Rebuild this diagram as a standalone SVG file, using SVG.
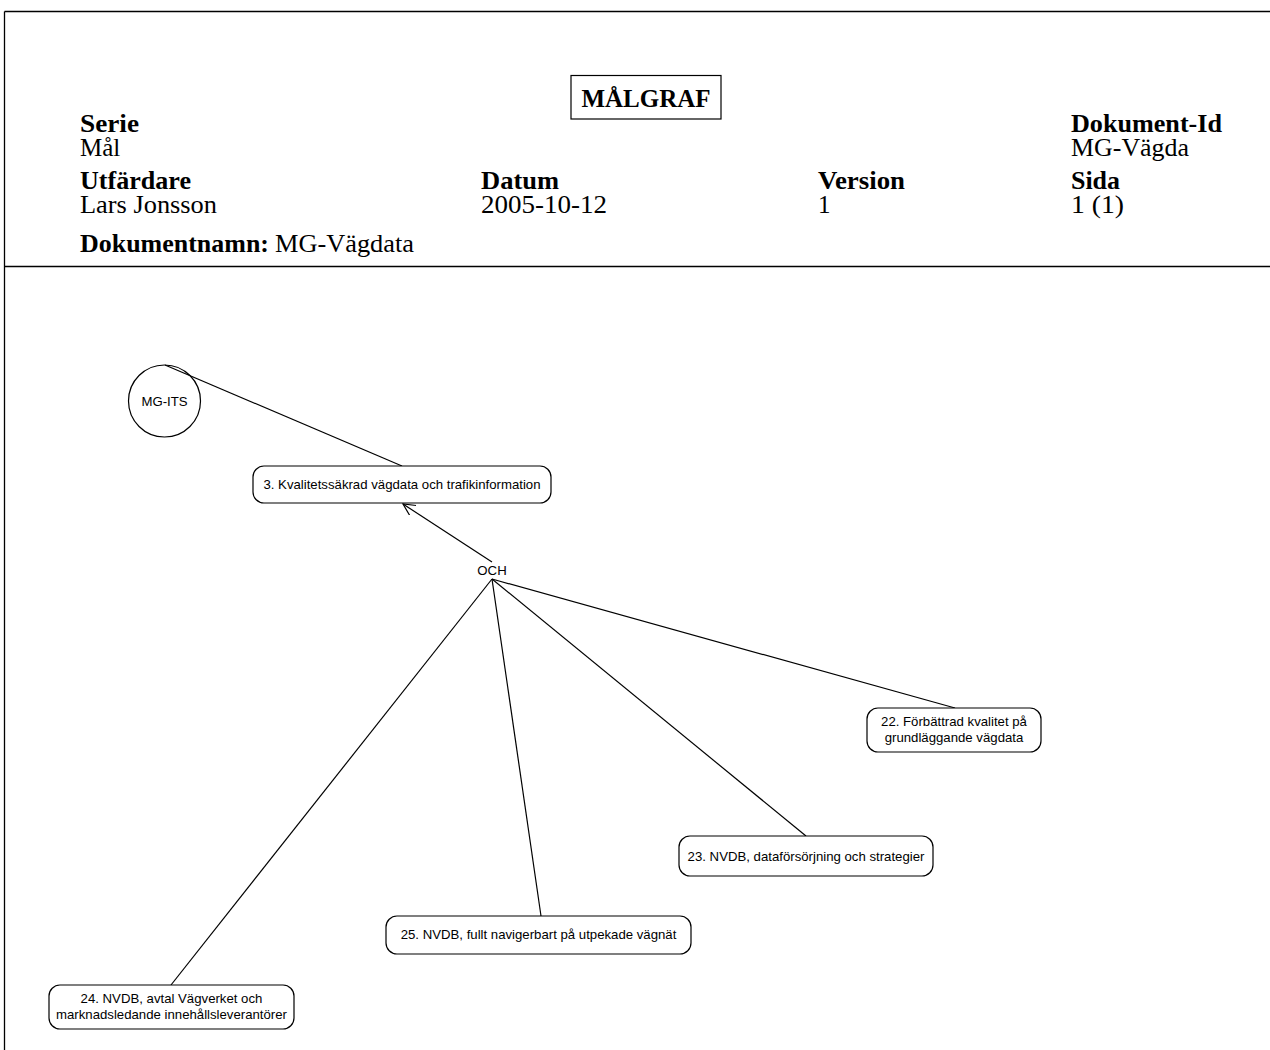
<svg xmlns="http://www.w3.org/2000/svg" width="1270" height="1050" viewBox="0 0 1270 1050">
  <style>
    .frame { stroke: #000; stroke-width: 1.3; fill: none; }
    .hb { font-family: "Liberation Serif", "Times New Roman", serif; font-weight: bold; font-size: 25px; fill: #000; }
    .hr { font-family: "Liberation Serif", "Times New Roman", serif; font-size: 25px; fill: #000; }
    .node { fill: #fff; stroke: #000; stroke-width: 1.2; }
    .lbl { font-family: "Liberation Sans", Arial, sans-serif; font-size: 13.2px; fill: #000; text-anchor: middle; }
    .edge { stroke: #000; stroke-width: 1.2; fill: none; }
  </style>
  <defs>
    <marker id="open-arrow" markerWidth="14" markerHeight="14" refX="12" refY="6" orient="auto" markerUnits="userSpaceOnUse">
      <path d="M0,0 L12,6 L0,12" fill="none" stroke="#000" stroke-width="1.2"/>
    </marker>
  </defs>

  <rect x="0" y="0" width="1270" height="1050" fill="#fff"/>

  <!-- page frame -->
  <g id="page-frame">
    <line class="frame" x1="4.5" y1="11.5" x2="1270" y2="11.5"/>
    <line class="frame" x1="4.5" y1="11.5" x2="4.5" y2="1050"/>
    <line class="frame" x1="4.5" y1="266.5" x2="1270" y2="266.5"/>
  </g>

  <!-- header block -->
  <g id="header">
    <rect x="571" y="75.5" width="150" height="43.5" fill="none" stroke="#000" stroke-width="1.2"/>
    <text class="hb" x="646" y="107" text-anchor="middle" font-size="27">MÅLGRAF</text>

    <text class="hb" x="80" y="132" textLength="59" lengthAdjust="spacingAndGlyphs">Serie</text>
    <text class="hr" x="80" y="156">Mål</text>
    <text class="hb" x="1071" y="132" textLength="151" lengthAdjust="spacingAndGlyphs">Dokument-Id</text>
    <text class="hr" x="1071" y="156" textLength="118" lengthAdjust="spacingAndGlyphs">MG-Vägda</text>

    <text class="hb" x="80" y="189" textLength="111" lengthAdjust="spacingAndGlyphs">Utfärdare</text>
    <text class="hr" x="80" y="213" textLength="137" lengthAdjust="spacingAndGlyphs">Lars Jonsson</text>
    <text class="hb" x="481" y="189" textLength="78" lengthAdjust="spacingAndGlyphs">Datum</text>
    <text class="hr" x="481" y="213" textLength="126" lengthAdjust="spacingAndGlyphs">2005-10-12</text>
    <text class="hb" x="818" y="189" textLength="87" lengthAdjust="spacingAndGlyphs">Version</text>
    <text class="hr" x="818" y="213">1</text>
    <text class="hb" x="1071" y="189" textLength="49" lengthAdjust="spacingAndGlyphs">Sida</text>
    <text class="hr" x="1071" y="213" textLength="53" lengthAdjust="spacingAndGlyphs">1 (1)</text>

    <text class="hb" x="80" y="252" textLength="189" lengthAdjust="spacingAndGlyphs">Dokumentnamn:</text>
    <text class="hr" x="275" y="252" textLength="139" lengthAdjust="spacingAndGlyphs">MG-Vägdata</text>
  </g>

  <!-- connectors -->
  <g id="connectors">
    <line class="edge" x1="165" y1="365" x2="402" y2="466"/>
    <line class="edge" x1="492" y1="562" x2="403" y2="504" marker-end="url(#open-arrow)"/>
    <line class="edge" x1="492" y1="579" x2="955" y2="708"/>
    <line class="edge" x1="492" y1="579" x2="806" y2="836"/>
    <line class="edge" x1="492" y1="579" x2="541" y2="916"/>
    <line class="edge" x1="492" y1="579" x2="171" y2="985"/>
  </g>

  <!-- nodes -->
  <g id="mg-its">
    <circle cx="164.5" cy="401" r="36" fill="none" stroke="#000" stroke-width="1.2"/>
    <text class="lbl" x="164.5" y="406">MG-ITS</text>
  </g>

  <g id="goal-3">
    <rect class="node" x="253" y="466" width="298" height="37" rx="11"/>
    <text class="lbl" x="402" y="489">3. Kvalitetssäkrad vägdata och trafikinformation</text>
  </g>

  <g id="och">
    <text class="lbl" x="492" y="575" font-size="13.5">OCH</text>
  </g>

  <g id="goal-22">
    <rect class="node" x="867" y="708" width="174" height="44" rx="11"/>
    <text class="lbl" x="954" y="726">22. Förbättrad kvalitet på</text>
    <text class="lbl" x="954" y="742">grundläggande vägdata</text>
  </g>

  <g id="goal-23">
    <rect class="node" x="679" y="836" width="254" height="40" rx="11"/>
    <text class="lbl" x="806" y="861">23. NVDB, dataförsörjning och strategier</text>
  </g>

  <g id="goal-25">
    <rect class="node" x="386" y="916" width="305" height="38" rx="11"/>
    <text class="lbl" x="538.5" y="939">25. NVDB, fullt navigerbart på utpekade vägnät</text>
  </g>

  <g id="goal-24">
    <rect class="node" x="49" y="985" width="245" height="44" rx="11"/>
    <text class="lbl" x="171.5" y="1003">24. NVDB, avtal Vägverket och</text>
    <text class="lbl" x="171.5" y="1019">marknadsledande innehållsleverantörer</text>
  </g>
</svg>
